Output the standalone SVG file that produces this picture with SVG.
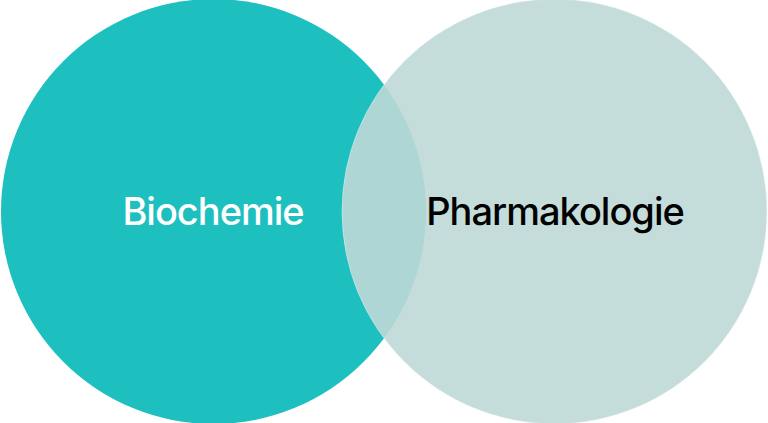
<svg xmlns="http://www.w3.org/2000/svg" width="768" height="423" viewBox="0 0 768 423">
  <style>
    .lbl { font-family: Inter, "Noto Sans", "Liberation Sans", sans-serif; font-size: 38px; font-weight: 500; letter-spacing: -1px; text-anchor: middle; }
  </style>
  <rect width="768" height="423" fill="#ffffff"/>
  <g id="biochemie">
    <circle cx="213.5" cy="211.5" r="212.5" fill="#1EBFBF"/>
  </g>
  <g id="pharmakologie">
    <circle cx="554.5" cy="211.5" r="212.5" fill="#BED8D6" fill-opacity="0.9" stroke="#ffffff" stroke-opacity="0.4" stroke-width="1"/>
  </g>
  <g id="labels">
    <text class="lbl" x="213" y="225" fill="#ffffff">Biochemie</text>
    <text class="lbl" x="555" y="225" fill="#000000">Pharmakologie</text>
  </g>
  <g id="connectors"/>
</svg>
